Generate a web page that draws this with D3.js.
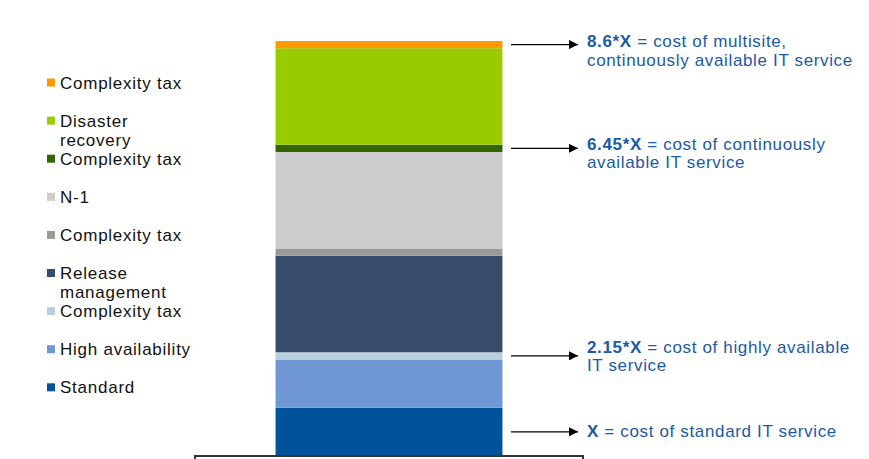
<!DOCTYPE html>
<html>
<head>
<meta charset="utf-8">
<script src="https://cdn.jsdelivr.net/npm/d3@7"></script>
<style>
  body { margin: 0; background: #fff; }
  text { font-family: "Liberation Sans", Arial, sans-serif; }
</style>
</head>
<body>
<div id="chart"></div>
<script>
// segments from the bottom of the bar up
const segments = ["Standard", "High availability", "Complexity tax", "Release management",
    "Complexity tax", "N-1", "Complexity tax", "Disaster recovery", "Complexity tax"];
const values = [1, 1, 0.15, 2, 0.15, 2, 0.15, 2, 0.15];
const colors = ["#00529b", "#6f97d3", "#b8cfe0", "#374c6b", "#999999", "#cccccc", "#336600", "#99cc00", "#ff9900"];

// callouts: which segment the arrow points to, bold part, rest of text
const calloutSegment = [0, 2, 6, 8];
const calloutBold = ["X", "2.15*X", "6.45*X", "8.6*X"];
const calloutText = [
    [" =  cost of standard IT service"],
    [" = cost of highly available", "IT service"],
    [" = cost of continuously", "available IT service"],
    [" = cost of multisite,", "continuously available IT service"]
];
const calloutShift = [5, -3, 1.5, 2.5];

const width = 869, height = 459;

const svg = d3.select("#chart").append("svg")
    .attr("width", width)
    .attr("height", height);

const x = d3.scaleBand()
    .domain(["cost"])
    .range([195, 583])
    .padding(0.262);

const y = d3.scaleLinear()
    .domain([0, 8.6])
    .range([456, 41]);

// stack the values
let cum = 0;
const stacked = values.map((v, i) => {
    const d = {name: segments[i], y0: cum, y1: cum + v, color: colors[i]};
    cum += v;
    return d;
});

svg.selectAll(".bar")
    .data(stacked)
  .enter().append("rect")
    .attr("class", "bar")
    .attr("x", x("cost"))
    .attr("width", x.bandwidth())
    .attr("y", d => y(d.y1))
    .attr("height", d => y(d.y0) - y(d.y1))
    .attr("fill", d => d.color);

// frame under the bar
svg.append("path")
    .attr("d", `M195,${height + 5}V456H583V${height + 5}`)
    .attr("fill", "none")
    .attr("stroke", "#333")
    .attr("stroke-width", 2);

// legend, top item = top segment
const legend = stacked.slice().reverse();
const lg = svg.selectAll(".legend")
    .data(legend)
  .enter().append("g")
    .attr("class", "legend")
    .attr("transform", (d, i) => "translate(0," + (82.5 + i * 38.1) + ")");
lg.append("rect")
    .attr("x", 47)
    .attr("y", -4)
    .attr("width", 8)
    .attr("height", 8)
    .attr("fill", d => d.color);
lg.append("text")
    .attr("x", 60)
    .attr("y", 6)
    .style("font-size", "17px")
    .style("letter-spacing", "0.75px")
    .attr("fill", "#111")
    .each(function(d) {
        const words = d.name.split(" ");
        const lines = (d.name === "Disaster recovery" || d.name === "Release management") ? words : [d.name];
        lines.forEach((l, j) => {
            d3.select(this).append("tspan")
                .attr("x", 60)
                .attr("dy", j === 0 ? 0 : 19)
                .text(l);
        });
    });

// arrows + callouts
svg.append("defs").append("marker")
    .attr("id", "arrow")
    .attr("viewBox", "0 0 10 10")
    .attr("refX", 10)
    .attr("refY", 5)
    .attr("markerWidth", 12)
    .attr("markerHeight", 9)
    .attr("markerUnits", "userSpaceOnUse")
    .attr("orient", "auto")
  .append("path")
    .attr("d", "M0,0L10,5L0,10Z")
    .attr("fill", "#000");

calloutSegment.forEach((s, i) => {
    const yy = y((stacked[s].y0 + stacked[s].y1) / 2);
    svg.append("line")
        .attr("x1", 511)
        .attr("x2", 578)
        .attr("y1", yy)
        .attr("y2", yy)
        .attr("stroke", "#000")
        .attr("stroke-width", 1.3)
        .attr("marker-end", "url(#arrow)");
    const t = svg.append("text")
        .attr("x", 587)
        .attr("y", yy + calloutShift[i])
        .attr("fill", "#1a5aa5")
        .style("font-size", "17px")
        .style("letter-spacing", "0.65px");
    t.append("tspan")
        .style("font-weight", "bold")
        .text(calloutBold[i]);
    t.append("tspan")
        .text(calloutText[i][0]);
    if (calloutText[i][1]) {
        t.append("tspan")
            .attr("x", 587)
            .attr("dy", 18.5)
            .text(calloutText[i][1]);
    }
});
</script>
</body>
</html>
